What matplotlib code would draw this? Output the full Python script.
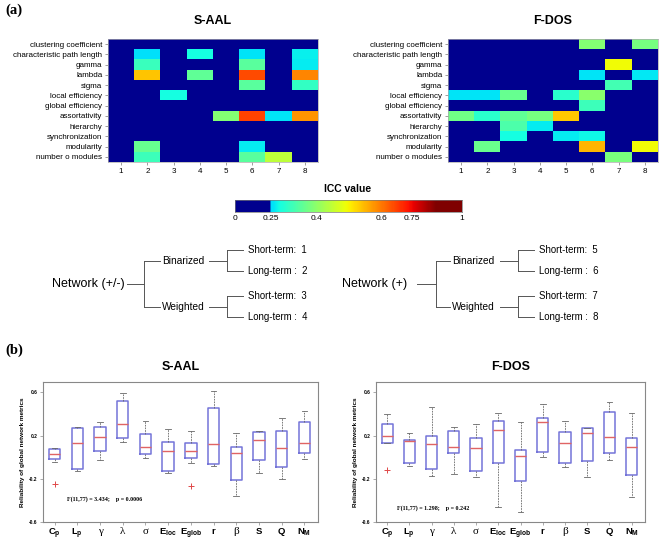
import numpy as np
import matplotlib
matplotlib.use('Agg')
import matplotlib.pyplot as plt
from matplotlib.colors import ListedColormap

plt.rcParams['font.family'] = 'Liberation Sans'
plt.rcParams['mathtext.fontset'] = 'custom'
plt.rcParams['mathtext.bf'] = 'Liberation Sans:bold'
plt.rcParams['mathtext.rm'] = 'Liberation Sans'

# ---------------- data: panel (a) ----------------
metrics = ['clustering coefficient', 'characteristic path length', 'gamma', 'lambda',
           'sigma', 'local efficiency', 'global efficiency', 'assortativity',
           'hierarchy', 'synchronization', 'modularity', 'number o modules']
conditions = [1, 2, 3, 4, 5, 6, 7, 8]

# ICC values (0 = below 0.25, shown dark blue)
saal_icc = np.array([
    [0, 0, 0, 0, 0, 0, 0, 0],
    [0, 0.255, 0, 0.28, 0, 0.26, 0, 0.27],
    [0, 0.315, 0, 0, 0, 0.348, 0, 0.265],
    [0, 0.537, 0, 0.355, 0, 0.66, 0, 0.59],
    [0, 0, 0, 0, 0, 0.345, 0, 0.31],
    [0, 0, 0.28, 0, 0, 0, 0, 0],
    [0, 0, 0, 0, 0, 0, 0, 0],
    [0, 0, 0, 0, 0.39, 0.67, 0.258, 0.575],
    [0, 0, 0, 0, 0, 0, 0, 0],
    [0, 0, 0, 0, 0, 0, 0, 0],
    [0, 0.36, 0, 0, 0, 0.265, 0, 0],
    [0, 0.32, 0, 0, 0, 0.35, 0.444, 0],
])
fdos_icc = np.array([
    [0, 0, 0, 0, 0, 0.39, 0, 0.375],
    [0, 0, 0, 0, 0, 0, 0, 0],
    [0, 0, 0, 0, 0, 0, 0.49, 0],
    [0, 0, 0, 0, 0, 0.258, 0, 0.262],
    [0, 0, 0, 0, 0, 0, 0.325, 0],
    [0.26, 0.26, 0.36, 0, 0.30, 0.395, 0, 0],
    [0, 0, 0, 0, 0, 0.32, 0, 0],
    [0.37, 0.30, 0.355, 0.375, 0.535, 0, 0, 0],
    [0, 0, 0.335, 0.265, 0, 0, 0, 0],
    [0, 0, 0.28, 0, 0.265, 0.275, 0, 0],
    [0, 0.365, 0, 0, 0, 0.55, 0, 0.49],
    [0, 0, 0, 0, 0, 0, 0.38, 0],
])

icc_ticks = [0, 0.25, 0.4, 0.6, 0.75, 1]
icc_tick_labels = ['0', '0.25', '0.4', '0.6', '0.75', '1']
bar_pos = [0, 0.156, 0.36, 0.647, 0.78, 1]   # where each tick sits on the colour bar

# ---------------- data: panel (b) ----------------
box_labels = [r'$\mathbf{C_p}$', r'$\mathbf{L_p}$', 'γ', 'λ', 'σ',
              r'$\mathbf{E_{loc}}$', r'$\mathbf{E_{glob}}$', 'r', 'β', 'S', 'Q',
              r'$\mathbf{N_M}$']
greek_labels = ['γ', 'λ', 'σ', 'β']

saal_whishi = [0.085, 0.277, 0.329, 0.597, 0.332, 0.265, 0.246, 0.615, 0.222, 0.240, 0.360, 0.431]
saal_q3     = [0.080, 0.268, 0.277, 0.523, 0.212, 0.145, 0.129, 0.458, 0.098, 0.231, 0.240, 0.329]
saal_med    = [0.028, 0.129, 0.191, 0.305, 0.092, 0.062, 0.055, 0.120, 0.037, 0.157, 0.083, 0.129]
saal_q1     = [-0.018, -0.108, 0.062, 0.175, 0.034, -0.123, -0.009, -0.065, -0.209, -0.025, -0.086, 0.037]
saal_whislo = [-0.043, -0.126, -0.025, 0.138, -0.009, -0.148, -0.055, -0.080, -0.357, -0.148, -0.203, -0.018]
saal_fliers = [[-0.249], [], [], [], [], [], [-0.262], [], [], [], [], []]

fdos_whishi = [0.397, 0.222, 0.468, 0.277, 0.308, 0.406, 0.323, 0.498, 0.335, 0.268, 0.508, 0.406]
fdos_q3     = [0.308, 0.160, 0.200, 0.246, 0.175, 0.335, 0.068, 0.366, 0.231, 0.268, 0.415, 0.182]
fdos_med    = [0.194, 0.151, 0.123, 0.098, 0.089, 0.252, 0.012, 0.323, 0.132, 0.222, 0.185, 0.092]
fdos_q1     = [0.132, -0.049, -0.108, 0.037, -0.126, -0.055, -0.218, 0.052, -0.055, -0.031, 0.037, -0.166]
fdos_whislo = [0.129, -0.077, -0.178, -0.157, -0.185, -0.465, -0.508, 0.006, -0.095, -0.185, -0.025, -0.366]
fdos_fliers = [[-0.117], [], [], [], [], [], [], [], [], [], [], []]

saal_stat_text = 'F(11,77) = 3.434;    p = 0.0006'
fdos_stat_text = 'F(11,77) = 1.298;    p = 0.242'

# ---------------- colour map ----------------
# dark blue below 0.25, then the upper part of jet
p = np.linspace(0, 1, 256)
jet = plt.get_cmap('jet')
navy = np.array([0, 0, 0.56, 1])
cols = jet(np.clip(0.34 + (p - bar_pos[1]) * 0.9, 0, 1))
cols[p < bar_pos[1]] = navy
icc_cmap = ListedColormap(cols)

W, H = 662, 545
fig = plt.figure(figsize=(6.62, 5.45), dpi=100)


def px_axes(l, t, r, b):
    return fig.add_axes([l / W, 1 - b / H, (r - l) / W, (b - t) / H])


def heatmap(l, title, icc):
    ax = px_axes(l, 39, l + 210, 162)
    ax.imshow(np.interp(icc, icc_ticks, bar_pos), cmap=icc_cmap, vmin=0, vmax=1,
              aspect='auto', interpolation='nearest', extent=(0.5, 8.5, 11.5, -0.5))
    ax.set_yticks(range(len(metrics)))
    ax.set_yticklabels(metrics)
    ax.set_xticks(conditions)
    ax.tick_params(labelsize=5.8, length=2, width=0.5, color='#777777', pad=2)
    for s in ax.spines.values():
        s.set_color('#aaaaaa')
        s.set_linewidth(0.5)
    fig.text((l + 105) / W, 1 - 21 / H, title, ha='center', va='center',
             fontsize=9, fontweight='bold')


heatmap(108, 'S-AAL', saal_icc)
heatmap(448, 'F-DOS', fdos_icc)

fig.text(5 / W, 1 - 10 / H, '(a)', family='Liberation Serif', fontweight='bold',
         fontsize=10.5, va='center')
fig.text(5 / W, 1 - 350 / H, '(b)', family='Liberation Serif', fontweight='bold',
         fontsize=10.5, va='center')

# colour bar
cax = px_axes(235, 200, 462, 212)
cax.imshow(p[None, :], cmap=icc_cmap, aspect='auto', extent=(0, 1, 0, 1))
cax.set_yticks([])
cax.set_xticks(bar_pos)
cax.set_xticklabels(icc_tick_labels)
cax.tick_params(labelsize=6, length=0, pad=2)
for s in cax.spines.values():
    s.set_linewidth(0.5)
    s.set_color('#777777')
fig.text(348 / W, 1 - 189 / H, 'ICC value', ha='center', va='center',
         fontsize=7.5, fontweight='bold')

# tree diagrams
tax = fig.add_axes([0, 0, 1, 1])
tax.set_xlim(0, W)
tax.set_ylim(H, 0)
tax.axis('off')


def draw_tree(root, x_root_end, x_line0, x_branch, x_sub, x_sub_end, leaf_ids):
    lc = '#555555'
    y_root, y_subs, dy = 283.5, [260.5, 306.5], 10.5
    tax.text(x_root_end, y_root, root, ha='right', va='center', fontsize=9)
    tax.plot([x_line0, x_branch], [y_root, y_root], color=lc, lw=0.7)
    tax.plot([x_branch, x_branch], y_subs, color=lc, lw=0.7)
    for k, (name, ys) in enumerate(zip(['Binarized', 'Weighted'], y_subs)):
        tax.plot([x_branch, x_sub - 2], [ys, ys], color=lc, lw=0.7)
        tax.text(x_sub, ys, name, va='center', fontsize=7.3)
        xv = x_sub_end + 18
        tax.plot([x_sub_end, xv], [ys, ys], color=lc, lw=0.7)
        tax.plot([xv, xv], [ys - dy, ys + dy], color=lc, lw=0.7)
        for j, (lab, yl) in enumerate(zip(['Short-term:', 'Long-term :'], [ys - dy, ys + dy])):
            tax.plot([xv, xv + 16], [yl, yl], color=lc, lw=0.7)
            tax.text(xv + 21, yl, f'{lab}  {leaf_ids[2 * k + j]}', va='center', fontsize=6.9)


draw_tree('Network (+/-)', 125, 127, 144, 162, 209, [1, 2, 3, 4])
draw_tree('Network (+)', 407, 417, 436, 452, 500, [5, 6, 7, 8])


# box plots
def boxpanel(l, r, title, whislo, q1, med, q3, whishi, fliers, stat_text, stat_pos):
    ax = px_axes(l, 381.7, r, 522)
    stats = [dict(whislo=a, q1=b, med=c, q3=d, whishi=e, fliers=f)
             for a, b, c, d, e, f in zip(whislo, q1, med, q3, whishi, fliers)]
    ax.bxp(stats, positions=range(1, 13), widths=0.5, capwidths=0.25,
           boxprops=dict(color='#7474d8', lw=1.1),
           medianprops=dict(color='#e06464', lw=1),
           whiskerprops=dict(color='#666666', lw=0.6, ls=(0, (2, 1.2))),
           capprops=dict(color='#666666', lw=0.6),
           flierprops=dict(marker='+', markeredgecolor='#e04848', markersize=4,
                           markeredgewidth=0.7))
    ax.set_xlim(0.5, 12.6)
    ax.set_ylim(-0.6, 0.7)
    ax.set_yticks([-0.6, -0.2, 0.2, 0.6])
    ax.set_yticklabels(['-0.6', '-0.2', '0.2', '0.6'], fontsize=3.5, fontweight='bold')
    ax.set_xticks(range(1, 13))
    ax.set_xticklabels(box_labels, fontsize=6.8, fontweight='bold')
    for t in ax.get_xticklabels():
        if t.get_text() in greek_labels:
            t.set_family('Liberation Serif')
            t.set_fontweight('normal')
            t.set_fontsize(8)
    ax.tick_params(length=2, width=0.5, color='#888888', pad=2)
    ax.tick_params(axis='x', pad=1.5)
    for s in ax.spines.values():
        s.set_color('#888888')
        s.set_linewidth(0.8)
    ax.set_ylabel('Reliability of global network metrics', fontsize=4.6,
                  fontweight='bold', labelpad=3)
    ax.text(stat_pos[0], stat_pos[1], stat_text, family='Liberation Serif',
            fontweight='bold', fontsize=4.3, va='center')
    fig.text((l + r) / 2 / W, 1 - 367 / H, title, ha='center', va='center',
             fontsize=9, fontweight='bold')


boxpanel(43.3, 318, 'S-AAL', saal_whislo, saal_q1, saal_med, saal_q3, saal_whishi,
         saal_fliers, saal_stat_text, (1.55, -0.385))
boxpanel(376, 645, 'F-DOS', fdos_whislo, fdos_q1, fdos_med, fdos_q3, fdos_whishi,
         fdos_fliers, fdos_stat_text, (1.45, -0.47))

fig.savefig('out.png', dpi=100)
